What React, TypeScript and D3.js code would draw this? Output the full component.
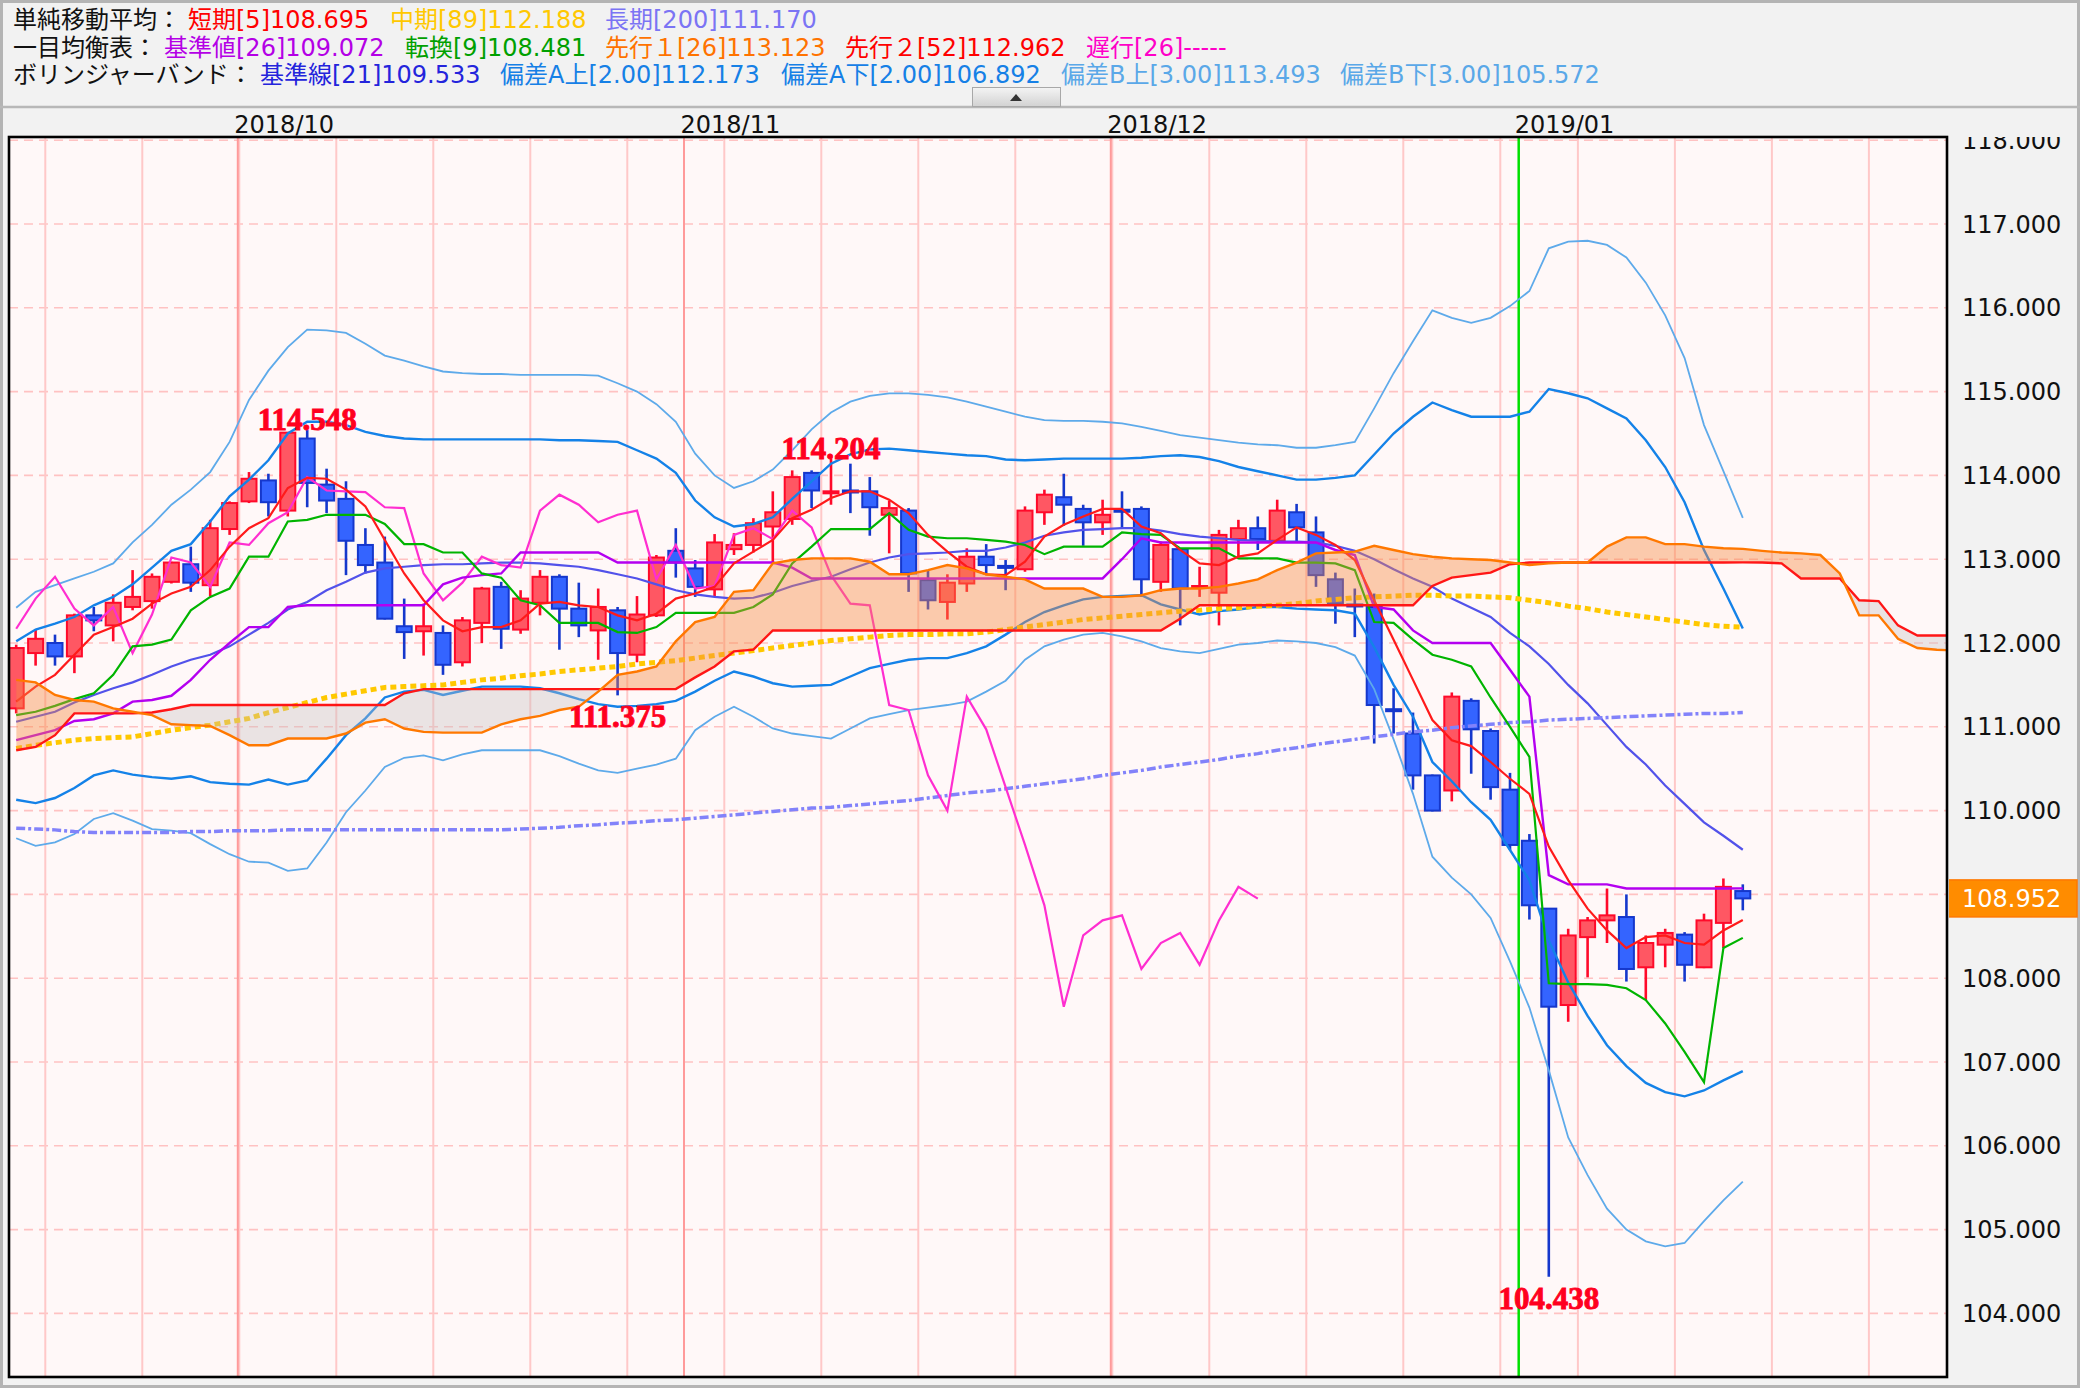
import React from "react";
import * as d3 from "d3";

// ---------------- data ----------------
const monthLabels = ["2018/10", "2018/11", "2018/12", "2019/01"];
const monthStartIndex = [12, 35, 57, 78];
// first candle index of each week (Jan 1 is absent, so that week has 4 bars)
const weekStartIndex = [2, 7, 12, 17, 22, 27, 32, 37, 42, 47, 52, 57, 62, 67, 72, 77, 81, 86, 91, 96, 101];
const yTicks = [104, 105, 106, 107, 108, 109, 110, 111, 112, 113, 114, 115, 116, 117, 118];
const lastPrice = 108.952;

const opens = [
  111.22, 111.88, 112.0, 111.84, 112.33, 112.21, 112.43, 112.5, 112.73, 112.94,
  112.69, 113.36, 113.69, 113.94, 113.58, 114.44, 113.89, 113.72, 113.17, 112.96,
  112.2, 112.14, 112.12, 111.77, 112.24, 112.67, 112.16, 112.48, 112.79, 112.41,
  112.15, 112.39, 111.86, 112.33, 113.1, 112.89, 112.64, 113.12, 113.17, 113.39,
  113.48, 114.03, 113.8, 113.82, 113.81, 113.53, 113.58, 112.75, 112.49, 112.71,
  113.03, 112.92, 112.88, 113.56, 113.74, 113.6, 113.44, 113.59, 113.6, 112.73,
  113.12, 112.67, 112.6, 113.24, 113.37, 113.22, 113.56, 113.32, 112.76, 112.46,
  112.43, 111.21, 110.92, 110.42, 110.24, 111.31, 110.95, 110.25, 109.64, 108.83,
  107.68, 108.49, 108.69, 108.73, 108.13, 108.4, 108.52, 108.13, 108.66, 109.04,
];
const highs = [
  111.98, 112.16, 112.1, 112.35, 112.43, 112.58, 112.87, 112.83, 112.97, 113.15,
  113.47, 113.69, 114.04, 114.02, 114.51, 114.548, 114.08, 113.93, 113.37, 113.27,
  112.53, 112.47, 112.21, 112.31, 112.67, 112.73, 112.63, 112.87, 112.82, 112.72,
  112.65, 112.43, 112.56, 113.05, 113.37, 112.99, 113.3, 113.31, 113.49, 113.81,
  114.06, 114.06, 114.204, 114.14, 113.98, 113.7, 113.61, 112.87, 112.82, 113.13,
  113.18, 112.99, 113.63, 113.83, 114.02, 113.65, 113.71, 113.81, 113.63, 113.21,
  113.13, 112.91, 113.35, 113.47, 113.51, 113.71, 113.66, 113.51, 112.84, 112.65,
  112.59, 111.46, 111.17, 110.43, 111.41, 111.34, 110.98, 110.45, 109.72, 108.83,
  108.59, 108.73, 109.07, 109.0, 108.51, 108.59, 108.55, 108.77, 109.19, 109.12,
];
const lows = [
  111.16, 111.73, 111.73, 111.64, 112.14, 112.02, 112.39, 112.41, 112.71, 112.61,
  112.56, 113.29, 113.67, 113.51, 113.51, 113.62, 113.55, 112.81, 112.83, 112.28,
  111.81, 111.85, 111.62, 111.72, 112.0, 111.93, 112.11, 112.33, 111.92, 112.07,
  111.8, 111.375, 111.77, 112.31, 112.78, 112.55, 112.55, 113.05, 113.08, 112.96,
  113.41, 113.61, 113.65, 113.55, 113.28, 113.07, 112.61, 112.4, 112.28, 112.61,
  112.81, 112.63, 112.85, 113.41, 113.4, 113.16, 113.29, 113.36, 112.55, 112.61,
  112.21, 112.55, 112.21, 113.03, 113.11, 113.21, 113.21, 112.67, 112.23, 112.07,
  110.8, 110.92, 110.25, 109.99, 110.11, 110.44, 110.13, 109.53, 108.7, 104.438,
  107.48, 108.01, 108.42, 107.96, 107.74, 108.13, 107.96, 108.12, 108.36, 108.81,
];
const closes = [
  111.94, 112.05, 111.84, 112.33, 112.27, 112.48, 112.55, 112.79, 112.96, 112.72,
  113.37, 113.67, 113.96, 113.68, 114.51, 113.91, 113.7, 113.22, 112.93, 112.29,
  112.13, 112.2, 111.74, 112.27, 112.65, 112.17, 112.53, 112.79, 112.41, 112.21,
  112.43, 111.88, 112.34, 113.02, 112.96, 112.67, 113.2, 113.17, 113.43, 113.56,
  113.98, 113.82, 113.81, 113.8, 113.62, 113.61, 112.83, 112.51, 112.72, 113.03,
  112.93, 112.9, 113.58, 113.77, 113.65, 113.44, 113.53, 113.58, 112.76, 113.17,
  112.65, 112.68, 113.29, 113.37, 113.24, 113.58, 113.38, 112.81, 112.47, 112.45,
  111.26, 111.2, 110.42, 110.0, 111.36, 110.97, 110.28, 109.59, 108.87, 107.66,
  108.51, 108.69, 108.75, 108.11, 108.42, 108.54, 108.16, 108.69, 109.09, 108.952,
];

const sma5 = [
  111.3, 111.48, 111.62, 111.86, 112.1, 112.19, 112.29, 112.47, 112.59, 112.67,
  112.87, 113.15, 113.37, 113.49, 113.85, 113.97, 113.96, 113.83, 113.63, 113.23,
  112.83, 112.51, 112.27, 112.14, 112.19, 112.19, 112.27, 112.47, 112.49, 112.45,
  112.43, 112.33, 112.27, 112.35, 112.53, 112.59, 112.67, 112.95, 113.09, 113.23,
  113.49, 113.59, 113.73, 113.81, 113.81, 113.71, 113.55, 113.29, 113.09, 112.91,
  112.82, 112.81, 112.97, 113.27, 113.41, 113.51, 113.6, 113.6, 113.39, 113.31,
  113.11, 112.95, 112.93, 113.03, 113.07, 113.23, 113.38, 113.29, 113.17, 112.99,
  112.51, 112.04, 111.56, 111.08, 110.84, 110.77, 110.58, 110.38, 110.2, 109.57,
  109.17, 108.83, 108.57, 108.36, 108.49, 108.51, 108.42, 108.4, 108.57, 108.695,
];
const sma89 = [
  110.74, 110.78, 110.81, 110.84, 110.86, 110.87, 110.88, 110.92, 110.96, 110.99,
  111.02, 111.06, 111.1, 111.17, 111.23, 111.29, 111.35, 111.39, 111.43, 111.47,
  111.48, 111.49, 111.5, 111.53, 111.56, 111.58, 111.61, 111.63, 111.66, 111.68,
  111.7, 111.72, 111.75, 111.77, 111.79, 111.82, 111.85, 111.88, 111.91, 111.94,
  111.97, 112.0, 112.03, 112.05, 112.07, 112.09, 112.1, 112.1, 112.11, 112.11,
  112.13, 112.16, 112.19, 112.22, 112.25, 112.28, 112.3, 112.32, 112.34, 112.36,
  112.38, 112.39, 112.41, 112.42, 112.44, 112.45, 112.47, 112.5, 112.52, 112.54,
  112.55, 112.56, 112.57, 112.57, 112.56, 112.56, 112.55, 112.54, 112.51, 112.48,
  112.44, 112.41, 112.37, 112.34, 112.31, 112.28, 112.25, 112.22, 112.2, 112.188,
];
const sma200 = [
  109.79, 109.78, 109.77, 109.75, 109.74, 109.74, 109.74, 109.74, 109.74, 109.75,
  109.75, 109.76, 109.76, 109.76, 109.77, 109.77, 109.77, 109.77, 109.77, 109.77,
  109.77, 109.77, 109.77, 109.77, 109.77, 109.77, 109.78, 109.79, 109.8, 109.82,
  109.83, 109.85, 109.86, 109.88, 109.89, 109.91, 109.93, 109.95, 109.97, 109.99,
  110.01, 110.03, 110.04, 110.06, 110.08, 110.1, 110.12, 110.15, 110.18, 110.21,
  110.23, 110.26, 110.29, 110.32, 110.35, 110.38, 110.42, 110.45, 110.48, 110.52,
  110.55, 110.58, 110.61, 110.65, 110.68, 110.72, 110.75, 110.79, 110.82, 110.85,
  110.88, 110.91, 110.94, 110.96, 110.99, 111.01, 111.03, 111.05, 111.06, 111.08,
  111.09, 111.1, 111.11, 111.12, 111.13, 111.14, 111.15, 111.16, 111.16, 111.17,
];
const kijun = [
  110.84, 110.9, 110.96, 111.07, 111.09, 111.16, 111.3, 111.32, 111.37, 111.56,
  111.8, 112.0, 112.19, 112.19, 112.43, 112.45, 112.45, 112.45, 112.45, 112.45,
  112.45, 112.45, 112.7, 112.78, 112.81, 112.83, 113.08, 113.08, 113.08, 113.08,
  113.08, 112.96, 112.96, 112.96, 112.96, 112.96, 112.96, 112.96, 112.96, 112.96,
  112.9, 112.77, 112.77, 112.77, 112.77, 112.77, 112.77, 112.77, 112.77, 112.77,
  112.77, 112.77, 112.77, 112.77, 112.77, 112.77, 112.77, 113.0, 113.25, 113.2,
  113.2, 113.2, 113.2, 113.2, 113.2, 113.2, 113.2, 113.2, 113.11, 113.05,
  112.43, 112.4, 112.15, 112.0, 112.0, 112.0, 112.0, 111.68, 111.36, 109.23,
  109.12, 109.12, 109.12, 109.07, 109.07, 109.07, 109.07, 109.07, 109.07, 109.072,
];
const tenkan = [
  111.14, 111.18, 111.25, 111.33, 111.4, 111.62, 111.96, 111.98, 112.04, 112.39,
  112.55, 112.65, 113.03, 113.03, 113.45, 113.47, 113.53, 113.53, 113.53, 113.42,
  113.18, 113.18, 113.08, 113.08, 112.83, 112.78, 112.51, 112.45, 112.24, 112.24,
  112.24, 112.13, 112.12, 112.19, 112.36, 112.36, 112.36, 112.36, 112.43, 112.58,
  112.95, 113.15, 113.36, 113.36, 113.36, 113.55, 113.35, 113.27, 113.25, 113.25,
  113.23, 113.21, 113.17, 113.06, 113.15, 113.15, 113.15, 113.32, 113.3, 113.29,
  113.13, 113.13, 113.13, 113.01, 113.01, 113.01, 112.96, 112.96, 112.95, 112.87,
  112.25, 112.24, 112.04, 111.86, 111.8, 111.72, 111.35, 111.0, 110.64, 107.94,
  107.93, 107.93, 107.92, 107.88, 107.74, 107.46, 107.12, 106.76, 108.36, 108.481,
];
const senkouA = [
  111.56, 111.53, 111.38, 111.32, 111.3, 111.22, 111.18, 111.14, 111.03, 111.02,
  111.01, 110.9, 110.78, 110.78, 110.86, 110.86, 110.86, 110.92, 111.05, 111.09,
  110.98, 110.94, 110.93, 110.93, 110.93, 111.03, 111.09, 111.13, 111.2, 111.24,
  111.42, 111.62, 111.66, 111.72, 112.02, 112.25, 112.31, 112.61, 112.63, 112.95,
  112.99, 113.01, 113.01, 113.01, 112.97, 112.82, 112.82, 112.87, 112.93, 112.89,
  112.82, 112.79, 112.76, 112.65, 112.65, 112.65, 112.55, 112.55, 112.57, 112.63,
  112.65, 112.65, 112.67, 112.71, 112.76, 112.87, 112.96, 113.07, 113.08, 113.09,
  113.16, 113.11, 113.06, 113.03, 113.01, 113.0, 112.99, 112.96, 112.93, 112.95,
  112.96, 112.96, 113.15, 113.26, 113.26, 113.18, 113.18, 113.15, 113.13, 113.123,
  113.1, 113.08, 113.07, 113.05, 112.83, 112.33, 112.33, 112.05, 111.94, 111.92,
  111.91,
];
const senkouB = [
  110.72, 110.76, 110.9, 111.16, 111.16, 111.16, 111.16, 111.17, 111.21, 111.26,
  111.26, 111.26, 111.26, 111.26, 111.26, 111.26, 111.26, 111.26, 111.26, 111.26,
  111.4, 111.45, 111.45, 111.45, 111.45, 111.45, 111.45, 111.45, 111.45, 111.45,
  111.45, 111.45, 111.45, 111.45, 111.45, 111.59, 111.72, 111.9, 111.92, 112.15,
  112.15, 112.15, 112.15, 112.15, 112.15, 112.15, 112.15, 112.15, 112.15, 112.15,
  112.15, 112.15, 112.15, 112.15, 112.15, 112.15, 112.15, 112.15, 112.15, 112.15,
  112.29, 112.45, 112.45, 112.45, 112.45, 112.45, 112.45, 112.45, 112.45, 112.45,
  112.45, 112.45, 112.45, 112.68, 112.78, 112.81, 112.84, 112.94, 112.96, 112.96,
  112.96, 112.96, 112.96, 112.96, 112.96, 112.96, 112.96, 112.96, 112.96, 112.962,
  112.96, 112.95, 112.77, 112.77, 112.77, 112.51, 112.5, 112.21, 112.09, 112.09,
  112.09,
];
const chikou = [
  112.17, 112.53, 112.79, 112.41, 112.21, 112.43, 111.88, 112.34, 113.02, 112.96,
  112.67, 113.2, 113.17, 113.43, 113.56, 113.98, 113.82, 113.81, 113.8, 113.62,
  113.61, 112.83, 112.51, 112.72, 113.03, 112.93, 112.9, 113.58, 113.77, 113.65,
  113.44, 113.53, 113.58, 112.76, 113.17, 112.65, 112.68, 113.29, 113.37, 113.24,
  113.58, 113.38, 112.81, 112.47, 112.45, 111.26, 111.2, 110.42, 110.0, 111.36,
  110.97, 110.28, 109.59, 108.87, 107.66, 108.51, 108.69, 108.75, 108.11, 108.42,
  108.54, 108.16, 108.69, 109.09, 108.95,
];
const bbMid = [
  111.06, 111.12, 111.18, 111.29, 111.38, 111.46, 111.53, 111.62, 111.72, 111.8,
  111.86, 111.96, 112.1, 112.24, 112.4, 112.49, 112.63, 112.73, 112.84, 112.89,
  112.91, 112.93, 112.94, 112.94, 112.95, 112.96, 112.96, 112.95, 112.93, 112.91,
  112.87, 112.82, 112.77, 112.7, 112.63, 112.58, 112.55, 112.53, 112.54, 112.6,
  112.68, 112.74, 112.79, 112.88, 112.96, 113.02, 113.06, 113.07, 113.08, 113.1,
  113.1, 113.14, 113.2, 113.28, 113.32, 113.35, 113.36, 113.37, 113.37, 113.34,
  113.3, 113.27, 113.25, 113.23, 113.22, 113.21, 113.21, 113.2, 113.16, 113.1,
  113.0, 112.88, 112.77, 112.67, 112.53, 112.42, 112.31, 112.12, 111.96, 111.75,
  111.5, 111.28, 111.02, 110.76, 110.55, 110.3, 110.08, 109.86, 109.7, 109.533,
];
const bbUp2 = [
  112.02, 112.16, 112.23, 112.31, 112.45, 112.55, 112.7, 112.9, 113.1, 113.18,
  113.45, 113.75, 113.95, 114.18, 114.5, 114.64, 114.64, 114.6, 114.52, 114.47,
  114.44, 114.43, 114.43, 114.43, 114.43, 114.43, 114.43, 114.43, 114.42, 114.42,
  114.41, 114.4, 114.3, 114.2, 114.03, 113.7, 113.5, 113.39, 113.42, 113.5,
  113.72, 113.93, 114.14, 114.25, 114.31, 114.32, 114.3, 114.28, 114.26, 114.24,
  114.23, 114.19, 114.18, 114.19, 114.2, 114.2, 114.2, 114.2, 114.21, 114.23,
  114.24, 114.22, 114.17, 114.1, 114.05, 114.0, 113.95, 113.95, 113.97, 114.0,
  114.25, 114.5, 114.7, 114.87, 114.78, 114.7, 114.7, 114.7, 114.76, 115.03,
  114.98, 114.92, 114.8, 114.68, 114.42, 114.1, 113.68, 113.11, 112.65, 112.173,
];
const bbLow2 = [
  110.13, 110.09, 110.15, 110.27, 110.42, 110.48, 110.43, 110.4, 110.38, 110.41,
  110.34, 110.32, 110.31, 110.37, 110.31, 110.36, 110.62, 110.9, 111.1, 111.35,
  111.42, 111.44, 111.38, 111.43, 111.48, 111.48, 111.48, 111.46, 111.4, 111.33,
  111.27, 111.24, 111.25, 111.27, 111.31, 111.42, 111.55, 111.66, 111.6, 111.52,
  111.48, 111.49, 111.5, 111.6, 111.7, 111.75, 111.8, 111.82, 111.82, 111.88,
  111.96, 112.1, 112.25, 112.37, 112.45, 112.52, 112.55, 112.56, 112.57, 112.46,
  112.4, 112.34, 112.38, 112.4, 112.43, 112.43, 112.41, 112.4, 112.39, 112.35,
  111.95, 111.5, 111.12, 110.58, 110.35, 110.1, 109.89, 109.53, 109.17, 108.45,
  107.95, 107.55, 107.2, 106.95, 106.75, 106.64, 106.59, 106.66, 106.78, 106.892,
];
const bbUp3 = [
  112.42, 112.61, 112.69, 112.77, 112.85, 112.95, 113.2, 113.41, 113.65, 113.83,
  114.04, 114.4, 114.9, 115.25, 115.53, 115.74, 115.73, 115.7, 115.57, 115.43,
  115.37, 115.3, 115.24, 115.22, 115.21, 115.21, 115.2, 115.2, 115.2, 115.2,
  115.19, 115.1, 115.0, 114.85, 114.64, 114.26, 114.0, 113.85, 113.93, 114.07,
  114.3, 114.55, 114.75, 114.88, 114.95, 114.98, 114.98, 114.96, 114.93, 114.88,
  114.82, 114.76, 114.7, 114.66, 114.65, 114.65, 114.64, 114.62, 114.58, 114.53,
  114.48, 114.45, 114.42, 114.39, 114.37, 114.36, 114.33, 114.33, 114.36, 114.4,
  114.8, 115.22, 115.6, 115.97, 115.88, 115.82, 115.88, 116.02, 116.2, 116.71,
  116.79, 116.8, 116.75, 116.6, 116.3, 115.91, 115.4, 114.6, 114.05, 113.493,
];
const bbLow3 = [
  109.67, 109.58, 109.62, 109.72, 109.9, 109.97, 109.88, 109.78, 109.76, 109.73,
  109.6, 109.48, 109.39, 109.38, 109.28, 109.31, 109.62, 109.98, 110.24, 110.52,
  110.63, 110.66, 110.6, 110.67, 110.72, 110.72, 110.72, 110.72, 110.65, 110.56,
  110.48, 110.45, 110.5, 110.55, 110.62, 110.96, 111.12, 111.24, 111.12, 110.98,
  110.92, 110.89, 110.86, 110.98, 111.1, 111.15, 111.2, 111.23, 111.26, 111.3,
  111.42, 111.55, 111.8, 111.96, 112.04, 112.1, 112.12, 112.08, 112.02, 111.94,
  111.9, 111.88, 111.93, 111.98, 112.0, 112.03, 112.02, 112.0, 111.95, 111.85,
  111.45, 110.85, 110.2, 109.45, 109.2, 109.0, 108.72, 108.2, 107.65, 106.9,
  106.1, 105.65, 105.25, 105.0, 104.86, 104.8, 104.84, 105.1, 105.35, 105.572,
];

// marked extremes
const markIndex = [15, 42, 31, 79];
const markValue = [114.548, 114.204, 111.375, 104.438];
const markIsHigh = [true, true, false, false];

// legend texts
const legendTitles = ["単純移動平均：", "一目均衡表：", "ボリンジャーバンド："];
const legendSMA = ["短期[5]108.695", "中期[89]112.188", "長期[200]111.170"];
const legendIchimoku = ["基準値[26]109.072", "転換[9]108.481", "先行１[26]113.123", "先行２[52]112.962", "遅行[26]-----"];
const legendBB = ["基準線[21]109.533", "偏差A上[2.00]112.173", "偏差A下[2.00]106.892", "偏差B上[3.00]113.493", "偏差B下[3.00]105.572"];

// ---------------- component ----------------
const FONT = "'DejaVu Sans', 'Noto Sans CJK JP', sans-serif";

export default function App() {
  const W = 2080;
  const H = 1388;
  const P = { l: 9, t: 137, r: 1947, b: 1377 };

  const x = d3.scaleLinear().domain([12, 89]).range([249, 1742.8]);
  const y = d3.scaleLinear().domain([104, 118]).range([1313.4, 140.2]);

  const lineGen = d3
    .line<number>()
    .x((_, i) => x(i))
    .y((d) => y(d));
  const path = (arr: number[]) => lineGen(arr) || "";

  const between =
    d3
      .area<number>()
      .x((_, i) => x(i))
      .y0((_, i) => y(senkouB[i]))
      .y1((d) => y(d))(senkouA) || "";
  const belowA =
    d3
      .area<number>()
      .x((_, i) => x(i))
      .y0(P.b + 60)
      .y1((d) => y(d))(senkouA) || "";
  const aboveA =
    d3
      .area<number>()
      .x((_, i) => x(i))
      .y0(P.t - 60)
      .y1((d) => y(d))(senkouA) || "";

  const RED_F = "#ff5763";
  const RED_B = "#ff0a2a";
  const BLUE_F = "#3464ff";
  const BLUE_B = "#1537cc";

  const smaColors = ["#ff0000", "#ffc800", "#7b74f4"];
  const smaX = [188, 390, 605];
  const ichiColors = ["#b400e6", "#00a000", "#ff7300", "#ff0000", "#ff00c8"];
  const ichiX = [164, 405, 605, 845, 1086];
  const bbColors = ["#2424dc", "#1680e6", "#1680e6", "#5aa8e8", "#5aa8e8"];
  const bbX = [260, 500, 781, 1061, 1340];
  const rowY = [28, 55.5, 83];

  return (
    <svg
      width={W}
      height={H}
      viewBox={`0 0 ${W} ${H}`}
      style={{ position: "absolute", left: 0, top: 0, display: "block" }}
      fontFamily={FONT}
    >
      <defs>
        <clipPath id="plotClip">
          <rect x={P.l + 1} y={P.t + 1} width={P.r - P.l - 2} height={P.b - P.t - 2} />
        </clipPath>
        <clipPath id="axisClip">
          <rect x={P.r + 2} y={P.t} width={W - P.r} height={P.b - P.t} />
        </clipPath>
        <clipPath id="belowA">
          <path d={belowA} />
        </clipPath>
        <clipPath id="aboveA">
          <path d={aboveA} />
        </clipPath>
        <linearGradient id="btnGrad" x1="0" y1="0" x2="0" y2="1">
          <stop offset="0" stopColor="#f4f4f4" />
          <stop offset="1" stopColor="#d2d2d2" />
        </linearGradient>
      </defs>

      {/* page background + frame */}
      <rect x={0} y={0} width={W} height={H} fill="#f2f2f2" />
      <rect x={1.5} y={1.5} width={W - 3} height={H - 3} fill="none" stroke="#b4b4b4" strokeWidth={3} />
      <line x1={0} x2={W} y1={107} y2={107} stroke="#b8b8b8" strokeWidth={2.5} />

      {/* legend */}
      <g fontSize={24}>
        <text x={13} y={rowY[0]} fill="#111">{legendTitles[0]}</text>
        {legendSMA.map((t, i) => (
          <text key={t} x={smaX[i]} y={rowY[0]} fill={smaColors[i]}>{t}</text>
        ))}
        <text x={13} y={rowY[1]} fill="#111">{legendTitles[1]}</text>
        {legendIchimoku.map((t, i) => (
          <text key={t} x={ichiX[i]} y={rowY[1]} fill={ichiColors[i]}>{t}</text>
        ))}
        <text x={13} y={rowY[2]} fill="#111">{legendTitles[2]}</text>
        {legendBB.map((t, i) => (
          <text key={t} x={bbX[i]} y={rowY[2]} fill={bbColors[i]}>{t}</text>
        ))}
      </g>

      {/* collapse button */}
      <rect x={972.5} y={87.5} width={88} height={19} fill="url(#btnGrad)" stroke="#a8a8a8" strokeWidth={1} />
      <path d="M1010,101 L1022,101 L1016,94 Z" fill="#333" />

      {/* plot background */}
      <rect x={P.l} y={P.t} width={P.r - P.l} height={P.b - P.t} fill="#fff8f8" />

      <g clipPath="url(#plotClip)">
        {/* horizontal dashed grid */}
        {yTicks.map((v) => (
          <line key={v} x1={P.l} x2={P.r} y1={y(v)} y2={y(v)} stroke="#ffc2c2" strokeWidth={1.6} strokeDasharray="9,6" />
        ))}
        {/* weekly vertical lines */}
        {weekStartIndex.map((k) => (
          <line key={k} x1={x(k - 0.5)} x2={x(k - 0.5)} y1={P.t} y2={P.b} stroke="#ffc8c8" strokeWidth={2} />
        ))}
        {/* month lines */}
        {monthStartIndex.map((m, i) =>
          i < 3 ? (
            <line key={m} x1={x(m - 0.5) - 1.5} x2={x(m - 0.5) - 1.5} y1={P.t} y2={P.b} stroke="#ff9a9a" strokeWidth={2} />
          ) : (
            <line key={m} x1={x(m - 0.5) - 1} x2={x(m - 0.5) - 1} y1={P.t} y2={P.b} stroke="#00e000" strokeWidth={2.5} />
          )
        )}

        {/* candles */}
        {opens.map((o, i) => {
          const c = closes[i];
          const up = c >= o;
          const xc = x(i);
          const top = y(Math.max(o, c));
          const bot = y(Math.min(o, c));
          const h = Math.max(bot - top, 2);
          return (
            <g key={i}>
              <line x1={xc} x2={xc} y1={y(highs[i])} y2={y(lows[i])} stroke={up ? RED_B : BLUE_B} strokeWidth={2.6} />
              <rect x={xc - 7.5} y={top} width={15} height={h} fill={up ? RED_F : BLUE_F} stroke={up ? RED_B : BLUE_B} strokeWidth={2} />
            </g>
          );
        })}

        {/* Bollinger bands */}
        <path d={path(bbUp3)} fill="none" stroke="#5eaaea" strokeWidth={1.8} />
        <path d={path(bbLow3)} fill="none" stroke="#5eaaea" strokeWidth={1.8} />
        <path d={path(bbUp2)} fill="none" stroke="#1482e8" strokeWidth={2.4} />
        <path d={path(bbLow2)} fill="none" stroke="#1482e8" strokeWidth={2.4} />
        <path d={path(bbMid)} fill="none" stroke="#5252ea" strokeWidth={2.2} />

        {/* moving averages */}
        <path d={path(sma200)} fill="none" stroke="#8282fa" strokeWidth={3.5} strokeDasharray="9,3,3,3" />
        <path d={path(sma89)} fill="none" stroke="#ffc800" strokeWidth={5} strokeDasharray="6,4" />

        {/* ichimoku lines */}
        <path d={path(chikou)} fill="none" stroke="#ff2ed0" strokeWidth={2.2} />
        <path d={path(kijun)} fill="none" stroke="#b400f0" strokeWidth={2.4} />
        <path d={path(tenkan)} fill="none" stroke="#00b400" strokeWidth={2.2} />
        <path d={path(sma5)} fill="none" stroke="#ff1a1a" strokeWidth={2.2} />

        {/* cloud */}
        <path d={between} fill="rgba(245,138,66,0.42)" clipPath="url(#belowA)" />
        <path d={between} fill="rgba(196,190,190,0.36)" clipPath="url(#aboveA)" />
        <path d={path(senkouB)} fill="none" stroke="#ff1616" strokeWidth={2.4} />
        <path d={path(senkouA)} fill="none" stroke="#ff7800" strokeWidth={2.4} />

        {/* high / low marks */}
        {markIndex.map((mi, k) => (
          <text
            key={mi}
            x={x(mi)}
            y={markIsHigh[k] ? y(markValue[k]) + 1 : y(markValue[k]) + 32}
            textAnchor="middle"
            fontFamily="'Liberation Serif', serif"
            fontWeight="bold"
            fontSize={31}
            fill="#ff001e"
            stroke="#ff001e"
            strokeWidth={0.9}
          >
            {markValue[k].toFixed(3)}
          </text>
        ))}
      </g>

      {/* plot frame */}
      <rect x={P.l} y={P.t} width={P.r - P.l} height={P.b - P.t} fill="none" stroke="#000" strokeWidth={2.6} />

      {/* month labels */}
      {monthLabels.map((lab, i) => (
        <text key={lab} x={x(monthStartIndex[i] - 0.5) - 5} y={133} fontSize={24} fill="#111">
          {lab}
        </text>
      ))}

      {/* y axis labels */}
      <g clipPath="url(#axisClip)">
        {yTicks.map((v) => (
          <text key={v} x={1962} y={y(v)} dy="0.36em" fontSize={24} fill="#111" fontFamily="'DejaVu Sans', sans-serif">
            {v.toFixed(3)}
          </text>
        ))}
        <rect x={P.r + 1} y={y(lastPrice) - 18.5} width={129} height={37} fill="#ff8c00" stroke="#ff7800" strokeWidth={1.5} />
        <text x={1962} y={y(lastPrice)} dy="0.36em" fontSize={24} fill="#fff" fontFamily="'DejaVu Sans', sans-serif">
          {lastPrice.toFixed(3)}
        </text>
      </g>
    </svg>
  );
}
